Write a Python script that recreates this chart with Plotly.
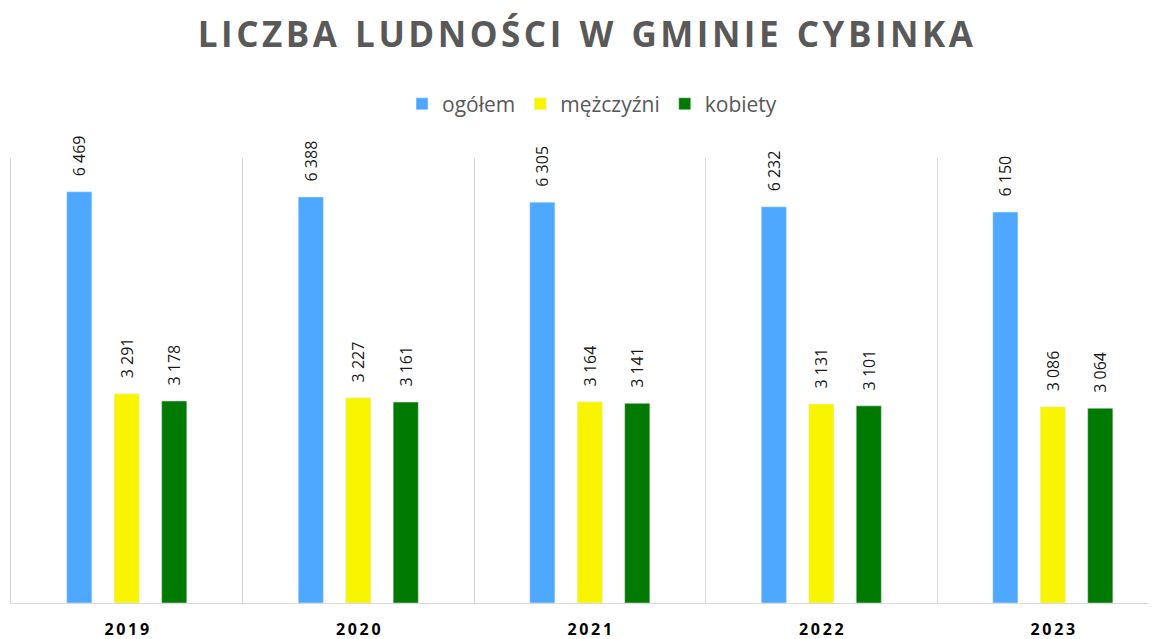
import plotly.graph_objects as go

years = ["2019", "2020", "2021", "2022", "2023"]
ogolem = [6469, 6388, 6305, 6232, 6150]
mezczyzni = [3291, 3227, 3164, 3131, 3086]
kobiety = [3178, 3161, 3141, 3101, 3064]

series = [
    ("ogółem", ogolem, "#4fa8ff"),
    ("mężczyźni", mezczyzni, "#f9f400"),
    ("kobiety", kobiety, "#007a00"),
]

def fmt(v):
    return "\u00a0\u00a0\u00a0" + f"{v:,}".replace(",", " ")

fig = go.Figure()
for name, vals, col in series:
    fig.add_trace(go.Bar(
        x=years, y=vals, name=name, marker_color=col,
        text=[fmt(v) for v in vals], textposition="outside", textangle=-90,
        textfont=dict(family="Open Sans", size=16, color="#1a1a1a"),
        constraintext="none", cliponaxis=False,
    ))

title_txt = "LICZBA LUDNOŚCI W GMINIE CYBINKA"
spaced = "\u200a".join(title_txt).replace("\u200a \u200a", "  ")

fig.update_layout(
    width=1157, height=639,
    paper_bgcolor="white", plot_bgcolor="white",
    margin=dict(l=3, r=8, t=150, b=44),
    barmode="group", bargap=0.385, bargroupgap=0.47,
    title=dict(
        text="<b>" + spaced + "</b>",
        x=0.499, xanchor="center", y=0.958, yanchor="middle",
        font=dict(family="Open Sans", size=35, color="#595959"),
    ),
    legend=dict(
        orientation="h", x=0.507, xanchor="center", y=1.121, yanchor="middle",
        font=dict(family="Open Sans", size=21, color="#595959"),
        itemwidth=30, traceorder="normal",
    ),
    showlegend=True,
)
fig.update_xaxes(
    type="category", range=[-0.5, 4.45],
    tickson="boundaries", showgrid=True, gridcolor="#d9d9d9", gridwidth=1,
    showline=True, linecolor="#d9d9d9", linewidth=1, ticks="",
    tickmode="array", tickvals=years,
    ticktext=["<b>" + "\u2009".join(y) + "</b>" for y in years],
    tickfont=dict(family="Open Sans", size=16, color="#000000"),
    ticklabelstandoff=12,
)
fig.update_yaxes(
    range=[0, 7000], showgrid=False, zeroline=False, showticklabels=False,
    showline=True, linecolor="#d9d9d9", linewidth=1, ticks="",
)
fig.write_html("out.html")
